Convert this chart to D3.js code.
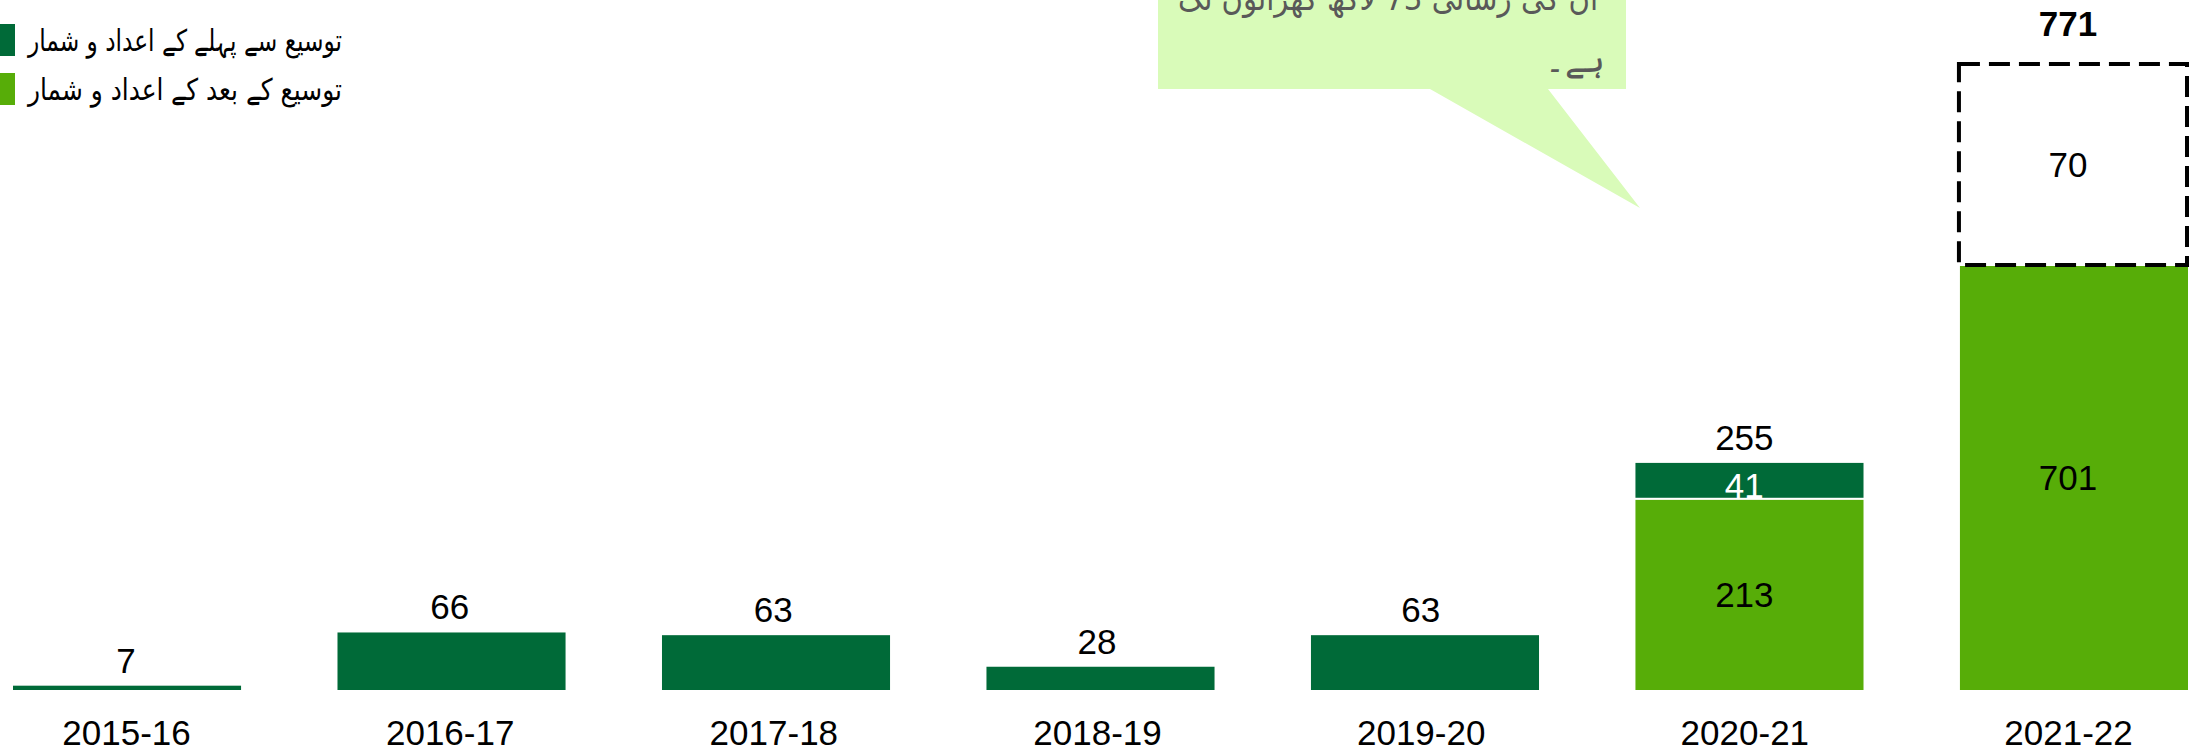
<!DOCTYPE html>
<html>
<head>
<meta charset="utf-8">
<script src="https://cdn.jsdelivr.net/npm/d3@7"></script>
<style>
  html, body { margin: 0; padding: 0; background: #fff; overflow: hidden; }
  svg { display: block; }
</style>
</head>
<body>
<svg id="chart" width="2192" height="751"></svg>
<script>
// ---- data ----
const categories = ["2015-16", "2016-17", "2017-18", "2018-19", "2019-20", "2020-21", "2021-22"];
const beforeValues = [7, 66, 63, 28, 63, 41, 0];      // توسیع سے پہلے
const afterValues = [0, 0, 0, 0, 0, 213, 701];        // توسیع کے بعد
const projectedValues = [0, 0, 0, 0, 0, 0, 70];       // dashed (projected) part
const totalLabels = [7, 66, 63, 28, 63, 255, 771];
const legendLabels = ["توسیع سے پہلے کے اعداد و شمار", "توسیع کے بعد کے اعداد و شمار"];
const calloutLines = ["ان کی رسائی 73 لاکھ گھرانوں تک", "ہے۔"];
const yBreakValues = [0, 255, 701, 771];

// ---- styles ----
const darkGreen = "#006a38";
const lightGreen = "#57ad08";
const calloutFill = "#d9fbb9";
const numFont = "'Liberation Sans', Arial, sans-serif";
const urduFont = "'DejaVu Sans', 'Noto Sans', sans-serif";

const svg = d3.select("#chart");

const x = d3.scaleBand().domain(categories).range([12, 2189]).paddingInner(0.291).paddingOuter(0);
const xl = d3.scalePoint().domain(categories).range([126, 2068]);
// broken (piece-wise) value axis, as in the original chart
const y = d3.scaleLinear().domain(yBreakValues).range([691, 461, 265, 64]);

const rows = categories.map((c, i) => ({
  cat: c, before: beforeValues[i], after: afterValues[i],
  proj: projectedValues[i], total: totalLabels[i]
}));

// ---- callout ----
svg.append("path")
  .attr("d", "M1158,-10 H1626 V89 H1548 L1640,208 L1430,89 H1158 Z")
  .attr("fill", calloutFill);

const cl = svg.append("g");
cl.selectAll("text").data(calloutLines).join("text")
  .attr("x", (d, i) => [1178, 1605][i])
  .attr("y", (d, i) => [10, 72][i])
  .attr("text-anchor", (d, i) => i === 0 ? "start" : "end")
  .attr("font-family", urduFont)
  .attr("font-size", 34)
  .attr("fill", "#595959")
  .each(function (d, i) {
    if (i === 0) d3.select(this).attr("textLength", 420).attr("lengthAdjust", "spacingAndGlyphs");
  })
  .text(d => d);

// ---- bars: dark (before) segment stacked on top of light (after) ----
const gBars = svg.append("g");
gBars.selectAll("rect.before").data(rows.filter(d => d.before > 0)).join("rect")
  .attr("class", "before")
  .attr("x", d => x(d.cat))
  .attr("width", x.bandwidth())
  .attr("y", d => y(d.after + d.before))
  .attr("height", d => y(d.after) - y(d.after + d.before))
  .attr("fill", darkGreen)
  .attr("stroke", "#fff")
  .attr("stroke-width", 2);

// inner label of dark segment when stacked
gBars.selectAll("text.beforeLbl").data(rows.filter(d => d.before > 0 && d.after > 0)).join("text")
  .attr("class", "beforeLbl")
  .attr("x", d => xl(d.cat))
  .attr("y", d => y(d.after) - 1)
  .attr("text-anchor", "middle")
  .attr("font-family", numFont)
  .attr("font-size", 35)
  .attr("fill", "#fff")
  .text(d => d.before);

gBars.selectAll("rect.after").data(rows.filter(d => d.after > 0)).join("rect")
  .attr("class", "after")
  .attr("x", d => x(d.cat))
  .attr("width", x.bandwidth())
  .attr("y", d => y(d.after))
  .attr("height", d => y(0) - y(d.after))
  .attr("fill", lightGreen)
  .attr("stroke", "#fff")
  .attr("stroke-width", 2);

gBars.selectAll("text.afterLbl").data(rows.filter(d => d.after > 0)).join("text")
  .attr("class", "afterLbl")
  .attr("x", d => xl(d.cat))
  .attr("y", d => (y(0) + y(d.after)) / 2)
  .attr("dy", "0.35em")
  .attr("text-anchor", "middle")
  .attr("font-family", numFont)
  .attr("font-size", 35)
  .attr("fill", "#000")
  .text(d => d.after);

// projected dashed box
gBars.selectAll("rect.proj").data(rows.filter(d => d.proj > 0)).join("rect")
  .attr("class", "proj")
  .attr("x", d => x(d.cat))
  .attr("width", x.bandwidth() - 2)
  .attr("y", d => y(d.after + d.proj))
  .attr("height", d => y(d.after) - y(d.after + d.proj))
  .attr("fill", "none")
  .attr("stroke", "#000")
  .attr("stroke-width", 4)
  .attr("stroke-dasharray", "21,9");

gBars.selectAll("text.projLbl").data(rows.filter(d => d.proj > 0)).join("text")
  .attr("class", "projLbl")
  .attr("x", d => xl(d.cat))
  .attr("y", d => (y(d.after) + y(d.after + d.proj)) / 2)
  .attr("dy", "0.35em")
  .attr("text-anchor", "middle")
  .attr("font-family", numFont)
  .attr("font-size", 35)
  .attr("fill", "#000")
  .text(d => d.proj);

// total labels
gBars.selectAll("text.total").data(rows).join("text")
  .attr("class", "total")
  .attr("x", d => xl(d.cat))
  .attr("y", d => d.proj > 0 ? y(d.after + d.proj) - 28 : y(d.after + d.before) - 12)
  .attr("text-anchor", "middle")
  .attr("font-family", numFont)
  .attr("font-size", 35)
  .attr("font-weight", d => d.proj > 0 ? "bold" : "normal")
  .attr("fill", "#000")
  .text(d => d.total);

// ---- category axis ----
const axis = svg.append("g")
  .attr("transform", "translate(0,745)")
  .call(d3.axisBottom(xl).tickSize(0).tickPadding(0));
axis.select(".domain").remove();
axis.selectAll("text")
  .attr("y", 0).attr("dy", 0)
  .attr("font-family", numFont)
  .attr("font-size", 35)
  .attr("fill", "#000");

// ---- legend ----
const legend = svg.append("g");
const legColors = [darkGreen, lightGreen];
legend.selectAll("rect").data(legendLabels).join("rect")
  .attr("x", -17)
  .attr("y", (d, i) => [24, 73][i])
  .attr("width", 32)
  .attr("height", 32)
  .attr("fill", (d, i) => legColors[i]);
legend.selectAll("text").data(legendLabels).join("text")
  .attr("x", 28)
  .attr("y", (d, i) => [40, 89][i])
  .attr("dy", "0.35em")
  .attr("text-anchor", "start")
  .attr("font-family", urduFont)
  .attr("font-size", 30)
  .attr("textLength", 314)
  .attr("lengthAdjust", "spacingAndGlyphs")
  .attr("fill", "#000")
  .text(d => d);
</script>
</body>
</html>
